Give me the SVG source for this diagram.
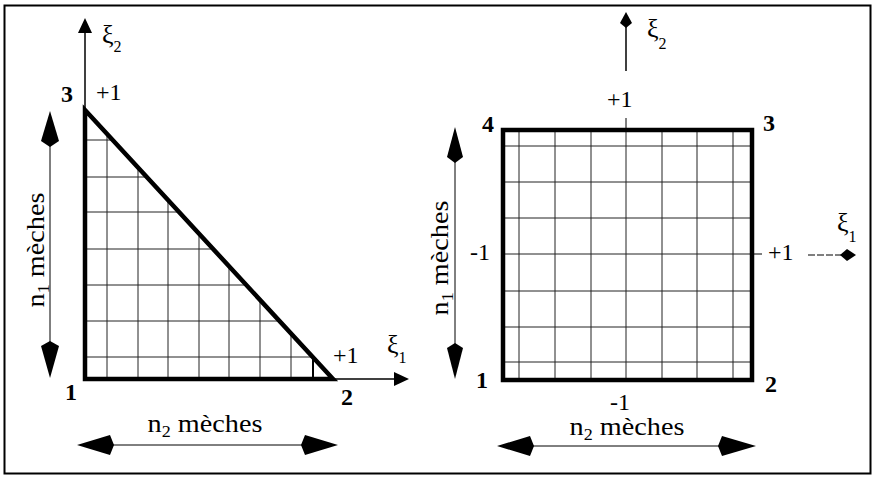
<svg xmlns="http://www.w3.org/2000/svg" width="876" height="479" viewBox="0 0 876 479">
<style>
text{font-family:"Liberation Serif","Times New Roman",serif;fill:#000}
.lbl{font-size:24px}
.num{font-size:24px;font-weight:bold}
.mech{font-size:25px}
.xi{font-size:26px}
.sub{font-size:16px}
.grid{stroke:#222;stroke-width:1;fill:none}
.thick{stroke:#000;stroke-width:4.5;fill:none;stroke-linejoin:miter}
.axis{stroke:#000;stroke-width:1.5;fill:none}
.thin{stroke:#000;stroke-width:1;fill:none}
.head{fill:#000;stroke:none}
</style>
<defs>
<clipPath id="tri"><polygon points="85,110 333,379 85,379"/></clipPath>
</defs>
<rect x="4.5" y="5.5" width="866" height="468" fill="#fff" stroke="#000" stroke-width="2"/>

<g id="left-element">
  <g class="grid" clip-path="url(#tri)">
    <path d="M107,100V380M138,100V380M168,100V380M199,100V380M229,100V380M260,100V380M291,100V380M313,100V380"/>
    <path d="M85,140H340M85,177H340M85,212H340M85,249H340M85,285H340M85,321H340M85,357H340"/>
  </g>
  <line x1="313" y1="357" x2="313" y2="379" stroke="#000" stroke-width="2"/>
  <line class="axis" x1="85" y1="30" x2="85" y2="110"/>
  <polygon class="head" points="85,18 92,33 78,33"/>
  <line class="axis" x1="333" y1="379" x2="396" y2="379"/>
  <polygon class="head" points="409,379 394,372 394,386"/>
  <polygon class="thick" points="85,110 333,379 85,379"/>
</g>

<g id="left-labels">
  <text class="num" x="61" y="102">3</text>
  <text class="lbl" x="96" y="100">+1</text>
  <text class="xi" x="102" y="43">ξ<tspan class="sub" dy="9">2</tspan></text>
  <text class="num" x="65" y="400">1</text>
  <text class="num" x="341" y="405">2</text>
  <text class="lbl" x="333" y="363">+1</text>
  <text class="xi" x="387" y="353">ξ<tspan class="sub" dy="10">1</tspan></text>
  <text class="mech" transform="translate(205,432) scale(1.13,1)" text-anchor="middle">n<tspan class="sub" dy="5">2</tspan><tspan dy="-5"> mèches</tspan></text>
  <text class="mech" transform="translate(44,250) rotate(-90) scale(1.13,1)" text-anchor="middle">n<tspan class="sub" dy="5">1</tspan><tspan dy="-5"> mèches</tspan></text>
</g>

<g id="right-element">
  <g class="grid">
    <path d="M519,130V380M555,130V380M591,130V380M626,130V380M662,130V380M697,130V380M733,130V380"/>
    <path d="M503,146H752M503,182H752M503,218H752M503,254H752M503,291H752M503,327H752M503,362H752"/>
  </g>
  <rect class="thick" x="503" y="130" width="249" height="250"/>
  <line class="thin" x1="626" y1="118" x2="626" y2="130"/>
  <line class="thin" x1="752" y1="254" x2="762" y2="254"/>
  <line class="axis" x1="626" y1="27" x2="626" y2="71"/>
  <polygon class="head" points="626,12 632,23 626,28 620,23"/>
  <line class="thin" x1="808" y1="255" x2="842" y2="255" stroke-dasharray="7,2"/>
  <polygon class="head" points="856,255 847,249 840,255 847,261"/>
</g>

<g id="right-labels">
  <text class="num" x="482" y="132">4</text>
  <text class="num" x="763" y="131">3</text>
  <text class="lbl" x="607" y="107">+1</text>
  <text class="xi" x="647" y="37">ξ<tspan class="sub" dy="12">2</tspan></text>
  <text class="lbl" x="470" y="260">-1</text>
  <text class="lbl" x="768" y="260">+1</text>
  <text class="xi" x="837" y="231">ξ<tspan class="sub" dy="11">1</tspan></text>
  <text class="num" x="476" y="388">1</text>
  <text class="num" x="765" y="392">2</text>
  <text class="lbl" x="610" y="410">-1</text>
  <text class="mech" transform="translate(627,435) scale(1.13,1)" text-anchor="middle">n<tspan class="sub" dy="5">2</tspan><tspan dy="-5"> mèches</tspan></text>
  <text class="mech" transform="translate(448,258) rotate(-90) scale(1.13,1)" text-anchor="middle">n<tspan class="sub" dy="5">1</tspan><tspan dy="-5"> mèches</tspan></text>
</g>

<g id="connectors">
  <line class="thin" x1="110" y1="445" x2="305" y2="445"/>
  <polygon class="head" points="77,445 110,435 114,445 110,455"/>
  <polygon class="head" points="338,445 305,435 301,445 305,455"/>
  <line class="thin" x1="50" y1="140" x2="50" y2="345"/>
  <polygon class="head" points="50,111 59,141 50,147 41,141"/>
  <polygon class="head" points="50,378 59,346 50,341 41,346"/>
  <line class="thin" x1="530" y1="446" x2="722" y2="446"/>
  <polygon class="head" points="497,446 530,436 534,446 530,456"/>
  <polygon class="head" points="756,446 722,436 718,446 722,456"/>
  <line class="thin" x1="455" y1="157" x2="455" y2="348"/>
  <polygon class="head" points="455,127 463,157 455,163 447,157"/>
  <polygon class="head" points="455,379 463,348 455,343 447,348"/>
</g>
</svg>
